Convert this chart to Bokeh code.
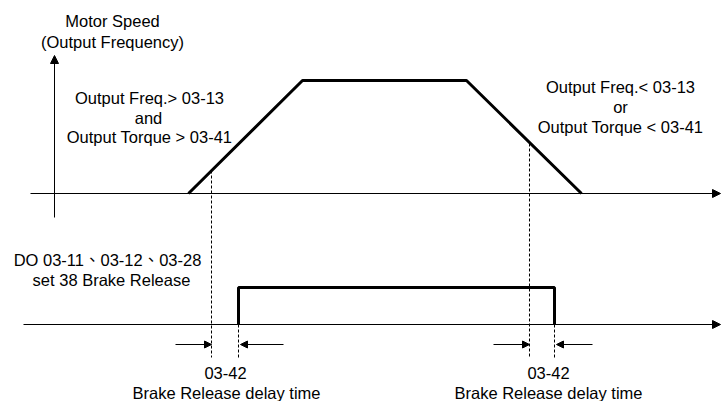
from bokeh.plotting import figure
from bokeh.models import Range1d, Arrow, NormalHead, ColumnDataSource
from bokeh.core.properties import value
from bokeh.embed import file_html
from bokeh.resources import INLINE

# ---- data (diagram coordinates: time to the right, level downward) ----
# motor speed profile (upper trace)
speed_time = [188, 302, 466, 581]
speed_level = [193, 80, 80, 193]
upper_base = 193

# brake release output (lower trace)
brake_time = [238, 238, 554, 554]
brake_level = [324, 287, 287, 324]
lower_base = 324

# delay markers: condition instant -> brake output instant
cond_time = [211, 529]
cond_level = [170, 143]
out_time = [238, 554]

# axes extents
upper_axis_x = [30, 720]
vert_axis_y = [217, 55]
vert_axis_x = 54
lower_axis_x = [23, 720]
marker_bottom = 357
marker_arrow_y = 344
arrow_left_from = [175, 493]
arrow_right_from = [283, 592]

# texts
labels = ["Motor Speed", "(Output Frequency)",
          "Output Freq.> 03-13", "and", "Output Torque > 03-41",
          "Output Freq.< 03-13", "or", "Output Torque < 03-41",
          "DO 03-11\u300103-12\u300103-28", "set 38 Brake Release",
          "03-42", "Brake Release delay time",
          "03-42", "Brake Release delay time"]
label_x = [112, 112, 149, 148, 149, 620, 620, 620, 107, 111, 225, 226, 548, 548]
label_y = [20, 41, 97, 117, 136, 86, 106, 126, 259, 279, 372, 392, 372, 392]

p = figure(width=726, height=401, output_backend="svg", toolbar_location=None,
           x_range=Range1d(0, 726), y_range=Range1d(401, 0),
           x_axis_type=None, y_axis_type=None, min_border=0)
p.grid.visible = False
p.outline_line_color = None
p.background_fill_color = "white"
p.border_fill_color = "white"

# axes with arrow heads
axes_src = ColumnDataSource(dict(
    x0=[upper_axis_x[0], vert_axis_x, lower_axis_x[0]],
    y0=[upper_base, vert_axis_y[0], lower_base],
    x1=[upper_axis_x[1], vert_axis_x, lower_axis_x[1]],
    y1=[upper_base, vert_axis_y[1], lower_base]))
p.add_layout(Arrow(source=axes_src, x_start="x0", y_start="y0", x_end="x1", y_end="y1",
                   line_color="black", line_width=1,
                   end=NormalHead(size=8, fill_color="black", line_color="black")))

# dashed marker lines
p.segment(x0=cond_time, y0=cond_level, x1=cond_time, y1=[marker_bottom] * 2,
          line_color="black", line_width=1, line_dash="3 2")
p.segment(x0=out_time, y0=[lower_base] * 2, x1=out_time, y1=[marker_bottom] * 2,
          line_color="black", line_width=1, line_dash="3 2")

# delay arrows
mk_src = ColumnDataSource(dict(
    x0=arrow_left_from + arrow_right_from,
    x1=cond_time + [t + 2 for t in out_time],
    y=[marker_arrow_y] * 4))
p.add_layout(Arrow(source=mk_src, x_start="x0", y_start="y", x_end="x1", y_end="y",
                   line_color="black", line_width=1,
                   end=NormalHead(size=7, fill_color="black", line_color="black")))

# traces
p.line(speed_time, speed_level, line_color="black", line_width=3)
p.line(brake_time, brake_level, line_color="black", line_width=3)

p.text(x=label_x, y=label_y, text=labels, text_align="center", text_baseline="middle",
       text_font=value("'Liberation Sans', 'Noto Sans CJK TC', sans-serif"),
       text_font_size="16.5px", text_color="black")

open("out.html", "w").write(file_html(p, INLINE))
